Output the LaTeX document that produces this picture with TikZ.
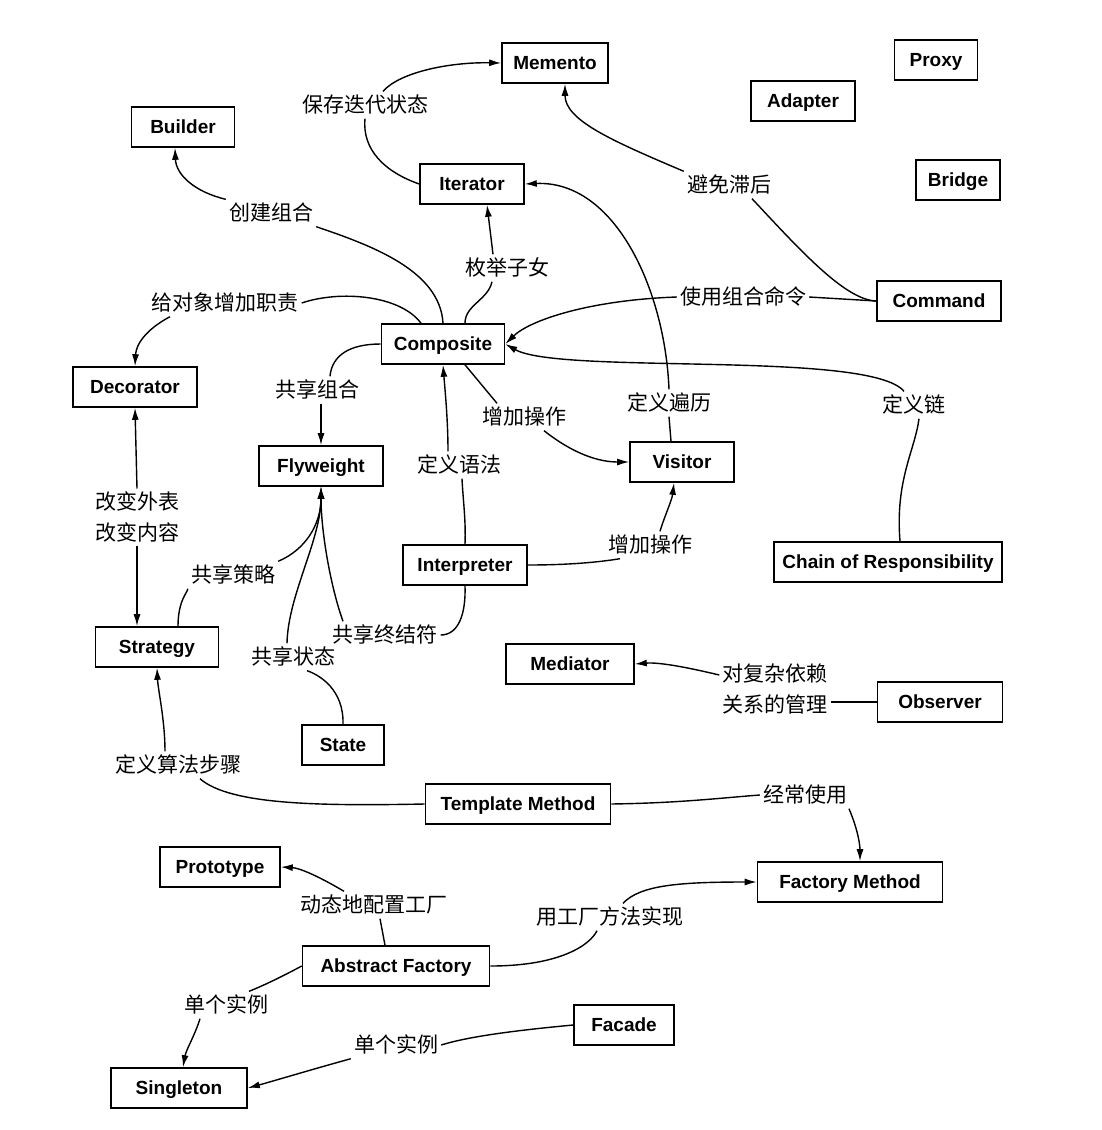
\documentclass[tikz,border=0pt]{standalone}
\usepackage{fontspec}
\newfontfamily\boxfont{Liberation Sans}
\newfontfamily\cjk{Noto Sans CJK SC}
\usetikzlibrary{arrows.meta}
\begin{document}
\begin{tikzpicture}[x=1pt,y=-1pt,
  pbox/.style={draw, line width=1.6pt, inner sep=0pt, minimum height=40pt,
    text height=13.6pt, text depth=0pt,
    font=\boxfont\bfseries\fontsize{19}{21}\selectfont},
  lbl/.style={inner sep=3pt, text height=18pt, text depth=3pt,
    font=\cjk\fontsize{21}{31}\selectfont},
  lbltwo/.style={inner sep=3pt, align=center, font=\cjk\fontsize{21}{31}\selectfont},
  conn/.style={line width=1.4pt},
  arr/.style={conn, -{Latex[length=12pt,width=7pt]}}]
\useasboundingbox (0,0) rectangle (1102,1130);

% pattern boxes
\node[pbox, minimum width=106pt] (mem) at (555,63) {Memento};
\node[pbox, minimum width=83pt] (proxy) at (936,60) {Proxy};
\node[pbox, minimum width=104pt] (adapter) at (803,101) {Adapter};
\node[pbox, minimum width=84pt] (bridge) at (958,180) {Bridge};
\node[pbox, minimum width=103pt] (builder) at (183,127) {Builder};
\node[pbox, minimum width=104pt] (iter) at (472,184) {Iterator};
\node[pbox, minimum width=124pt] (cmd) at (939,301) {Command};
\node[pbox, minimum width=123pt] (comp) at (443,344) {Composite};
\node[pbox, minimum width=124pt] (dec) at (135,387) {Decorator};
\node[pbox, minimum width=124pt] (fly) at (321,466) {Flyweight};
\node[pbox, minimum width=104pt] (vis) at (682,462) {Visitor};
\node[pbox, minimum width=124pt] (interp) at (465,565) {Interpreter};
\node[pbox, minimum width=228pt] (chain) at (888,562) {Chain of Responsibility};
\node[pbox, minimum width=123pt] (strat) at (157,647) {Strategy};
\node[pbox, minimum width=128pt] (med) at (570,664) {Mediator};
\node[pbox, minimum width=125pt] (obs) at (940,702) {Observer};
\node[pbox, minimum width=82pt] (state) at (343,745) {State};
\node[pbox, minimum width=185pt] (tm) at (518,804) {Template Method};
\node[pbox, minimum width=120pt] (proto) at (220,867) {Prototype};
\node[pbox, minimum width=185pt] (fm) at (850,882) {Factory Method};
\node[pbox, minimum width=187pt] (af) at (396,966) {Abstract Factory};
\node[pbox, minimum width=100pt] (fac) at (624,1025) {Facade};
\node[pbox, minimum width=136pt] (sing) at (179,1088) {Singleton};

% labels
\node[lbl] (L1) at (365,105) {保存迭代状态};
\node[lbl] (L2) at (271,213) {创建组合};
\node[lbl] (L3) at (507,268) {枚举子女};
\node[lbl] (L4) at (729,185) {避免滞后};
\node[lbl] (L5) at (225,303) {给对象增加职责};
\node[lbl] (L6) at (743,297) {使用组合命令};
\node[lbl] (L7) at (317,390) {共享组合};
\node[lbl] (L8) at (524,417) {增加操作};
\node[lbl] (L9) at (669,403) {定义遍历};
\node[lbl] (L10) at (914,405) {定义链};
\node[lbltwo] (L11) at (137,517) {改变外表\\改变内容};
\node[lbl] (L12) at (459,465) {定义语法};
\node[lbl] (L13) at (650,545) {增加操作};
\node[lbl] (L14) at (233,575) {共享策略};
\node[lbl] (L15) at (385,635) {共享终结符};
\node[lbl] (L16) at (293,657) {共享状态};
\node[lbltwo] (L17) at (775,689) {对复杂依赖\\关系的管理};
\node[lbl] (L18) at (178,765) {定义算法步骤};
\node[lbl] (L19) at (805,795) {经常使用};
\node[lbl] (L20) at (374,905) {动态地配置工厂};
\node[lbl] (L21) at (610,917) {用工厂方法实现};
\node[lbl] (L22) at (226,1005) {单个实例};
\node[lbl] (L23) at (396,1045) {单个实例};

% connectors
\draw[conn] (iter.west) .. controls (385,172) and (362,150) .. (L1.south);
\draw[arr] ([xshift=18pt]L1.north) .. controls (400,72) and (450,62) .. (mem.west);

\draw[conn] (comp.north) .. controls (440,270) and (370,245) .. (L2.south east);
\draw[arr] (L2.north west) .. controls (195,192) and (176,175) .. ([xshift=-8pt]builder.south);

\draw[conn] ([xshift=22pt]comp.north) .. controls (465,305) and (488,300) .. ([xshift=-15pt]L3.south);
\draw[arr] ([xshift=-14pt]L3.north) -- ([xshift=15pt]iter.south);

\draw[conn] (cmd.west) .. controls (845,300) and (800,250) .. ([xshift=23pt]L4.south);
\draw[arr] (L4.north west) .. controls (610,140) and (565,120) .. ([xshift=10pt]mem.south);

\draw[conn] (cmd.west) -- (L6.east);
\draw[arr] (L6.west) .. controls (590,300) and (530,320) .. (comp.east);

\draw[conn] ([xshift=-11pt]vis.north) -- (L9.south);
\draw[arr] (L9.north) .. controls (665,290) and (615,180) .. (iter.east);

\draw[conn] ([xshift=12pt]chain.north) .. controls (895,480) and (915,450) .. ([xshift=5pt]L10.south);
\draw[arr] ([xshift=-10pt]L10.north) .. controls (870,350) and (560,375) .. (comp.east);

\draw[conn] ([xshift=-22pt]comp.north) .. controls (400,295) and (340,290) .. (L5.east);
\draw[arr] ([xshift=-55pt]L5.south) .. controls (145,330) and (136,345) .. (dec.north);

\draw[conn] (comp.west) .. controls (350,344) and (332,355) .. ([xshift=13pt]L7.north);
\draw[arr] ([xshift=4pt]L7.south) -- (fly.north);

\draw[conn] ([xshift=22pt]comp.south) -- ([xshift=-27pt]L8.north);
\draw[arr] ([xshift=20pt]L8.south) .. controls (575,455) and (600,462) .. (vis.west);

\draw[conn] (interp.north) .. controls (466,520) and (463,500) .. ([xshift=3pt]L12.south);
\draw[arr] ([xshift=-11pt]L12.north) .. controls (448,420) and (445,390) .. (comp.south);

\draw[conn] (interp.east) .. controls (570,565) and (600,562) .. ([xshift=-30pt]L13.south);
\draw[arr] ([xshift=10pt]L13.north) .. controls (665,515) and (672,500) .. ([xshift=-8pt]vis.south);

\draw[arr] (L11.north) -- (dec.south);
\draw[arr] (L11.south) -- ([xshift=-20pt]strat.north);

\draw[conn] ([xshift=21pt]strat.north) .. controls (178,600) and (188,592) .. (L14.south west);
\draw[arr] (L14.north east) .. controls (305,550) and (321,525) .. (fly.south);

\draw[conn] (interp.south) .. controls (466,615) and (458,635) .. (L15.east);
\draw[arr] ([xshift=-42pt]L15.north) .. controls (330,585) and (321,530) .. (fly.south);

\draw[conn] (state.north) .. controls (344,690) and (320,675) .. ([xshift=14pt]L16.south);
\draw[arr] ([xshift=-6pt]L16.north) .. controls (288,595) and (321,540) .. (fly.south);

\draw[conn] (tm.west) .. controls (320,806) and (230,805) .. ([xshift=22pt]L18.south);
\draw[arr] ([xshift=-13pt]L18.north) .. controls (165,720) and (158,690) .. (strat.south);

\draw[conn] (tm.east) .. controls (680,803) and (720,798) .. (L19.west);
\draw[arr] ([xshift=44pt]L19.south) .. controls (858,830) and (860,845) .. ([xshift=10pt]fm.north);

\draw[conn] ([xshift=-11pt]af.north) -- ([xshift=6pt]L20.south);
\draw[arr] ([xshift=-30pt]L20.north) .. controls (320,877) and (300,868) .. (proto.east);

\draw[conn] (af.east) .. controls (560,966) and (590,945) .. ([xshift=-13pt]L21.south);
\draw[arr] ([xshift=13pt]L21.north) .. controls (640,885) and (680,882) .. (fm.west);

\draw[conn] (af.west) .. controls (285,975) and (265,985) .. ([xshift=23pt]L22.north);
\draw[arr] ([xshift=-26pt]L22.south) .. controls (195,1035) and (186,1050) .. ([xshift=4pt]sing.north);

\draw[conn] (fac.west) .. controls (520,1030) and (470,1036) .. (L23.east);
\draw[arr] (L23.south west) .. controls (310,1070) and (270,1082) .. (sing.east);

\draw[conn] (obs.west) -- (obs.west -| L17.east);
\draw[arr] ([yshift=14pt]L17.west) .. controls (690,668) and (660,662) .. (med.east);
\end{tikzpicture}
\end{document}
